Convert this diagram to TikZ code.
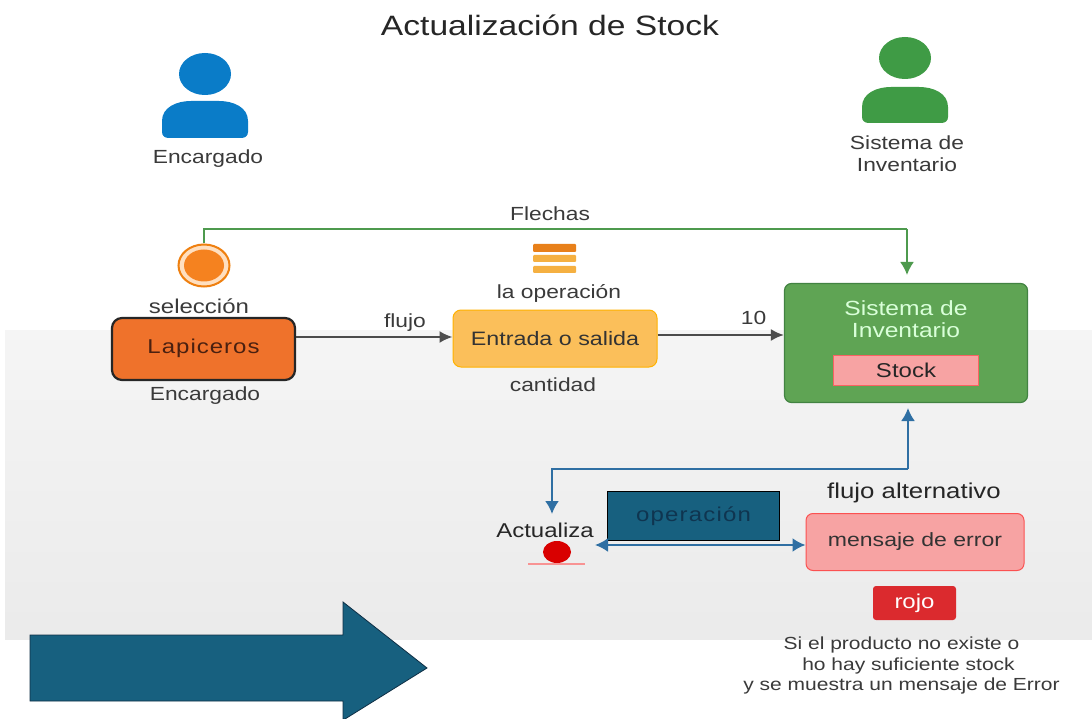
\documentclass[tikz,border=0pt]{standalone}
\usepackage{fontspec}
\setmainfont[FakeStretch=1.2]{Liberation Sans}
\usetikzlibrary{arrows.meta,shapes.geometric}
\definecolor{txt}{HTML}{3A3A3A}
\definecolor{navy}{HTML}{17607F}
\definecolor{navyline}{HTML}{0F2F45}
\definecolor{blueline}{HTML}{2F6FA3}
\definecolor{greenline}{HTML}{4E9A4E}
\definecolor{person1}{HTML}{0A7CC8}
\definecolor{person2}{HTML}{3F9B45}
\definecolor{invgreen}{HTML}{5FA454}
\definecolor{pinkbox}{HTML}{F7A3A3}
\definecolor{orangebox}{HTML}{EF722B}
\definecolor{yellowbox}{HTML}{FBBF5A}
\definecolor{redbox}{HTML}{DB2A2E}
\definecolor{stripeA}{HTML}{E8801A}
\definecolor{stripeB}{HTML}{F5B041}
\definecolor{startfill}{HTML}{F5821F}
\definecolor{lapitxt}{HTML}{4A2010}
\definecolor{opertxt}{HTML}{0F3550}
\tikzset{
  x=1pt,y=-1pt,
  lab/.style={font=\fontsize{19}{22}\selectfont,text=txt,inner sep=0pt,align=center},
  grayarrow/.style={draw=black!70,line width=2pt,-{Latex[length=13pt,width=12pt]}},
  greenarrow/.style={draw=greenline,line width=2pt},
  bluearrow/.style={draw=blueline,line width=2.2pt},
  bighead/.style={-{Latex[length=13pt,width=14pt]}},
}
\newcommand{\personicon}[5]{% cx, head y, body top, body bottom, colour
  \fill[#5] (#1,#2) ellipse (26pt and 21pt);
  \fill[#5] (#1-43,#4-6) -- (#1-43,#3+20) .. controls (#1-43,#3+6) and (#1-28,#3) .. (#1-14,#3)
     -- (#1+14,#3) .. controls (#1+28,#3) and (#1+43,#3+6) .. (#1+43,#3+20) -- (#1+43,#4-6)
     .. controls (#1+43,#4-2) and (#1+40,#4) .. (#1+36,#4) -- (#1-36,#4)
     .. controls (#1-40,#4) and (#1-43,#4-2) .. (#1-43,#4-6) -- cycle;
}
\begin{document}
\begin{tikzpicture}
\useasboundingbox (0,0) rectangle (1092,719);
\fill[white] (0,0) rectangle (1092,719);
\shade[top color=white!96!black,bottom color=white!92!black] (5,330) rectangle (1092,639);
% big arrow
\draw[fill=navy,draw=navyline,line width=.8pt] (30,635) -- (343,635) -- (343,602) -- (427,668) -- (345,719) -- (343,719) -- (343,701) -- (30,701) -- cycle;
% title
\node[font=\fontsize{28}{32}\selectfont,text=black!85,inner sep=0pt] (title) at (550,25) {Actualización de Stock};
% persons
\personicon{205}{74}{101}{138}{person1}
\personicon{905}{58}{87}{123}{person2}
\node[lab] (enc1) at (208,159) {Encargado};
\node[lab] (sys1) at (907,154) {Sistema de\\Inventario};
% start
\node[ellipse,fill=orange!25!white,draw=orange!75!brown,line width=2pt,minimum width=51pt,minimum height=42pt,inner sep=0pt] (start) at (204,265.5) {};
\node[ellipse,fill=startfill,minimum width=40pt,minimum height=32pt,inner sep=0pt] (startin) at (204,265.5) {};
\node[lab,font=\fontsize{20}{24}\selectfont] (sel) at (199,306) {selección};
% Lapiceros
\node[draw=black!85,line width=2.2pt,fill=orangebox,rounded corners=10pt,minimum width=183pt,minimum height=62pt,inner sep=0pt,font=\fontsize{20}{24}\selectfont\addfontfeature{LetterSpace=5},text=lapitxt] (lap) at (203.5,349) {\raisebox{5pt}{Lapiceros}};
\node[lab] (enc2) at (205,396) {Encargado};
% operation
\node[draw=orange!60!yellow,line width=1pt,fill=yellowbox,rounded corners=8pt,minimum width=204pt,minimum height=57pt,inner sep=0pt,font=\fontsize{19.4}{23}\selectfont,text=black!80] (ent) at (555,338.5) {Entrada o salida};
\node[lab] (op) at (559,293) {la operación};
\node[lab] (cant) at (553,385) {cantidad};
\fill[stripeA,rounded corners=1pt] (533,244) rectangle (576,252);
\fill[stripeB,rounded corners=1pt] (533,255) rectangle (576,262);
\fill[stripeB,rounded corners=1pt] (533,266) rectangle (576,273);
% inventory
\node[draw=greenline!85!black,line width=1.2pt,fill=invgreen,rounded corners=7pt,minimum width=243pt,minimum height=119pt,inner sep=0pt] (inv) at (906,343) {};
\node[font=\fontsize{20.5}{21.5}\selectfont,inner sep=0pt,align=center,text=green!15!white] (invt) at (906,319) {Sistema de\\Inventario};
\node[draw=red!40!pinkbox,line width=.8pt,fill=pinkbox,minimum width=145pt,minimum height=30pt,inner sep=0pt,font=\fontsize{20}{24}\selectfont,text=black!85] (stock) at (906,370) {Stock};
% edges top
\draw[grayarrow] (lap.east |- 0,337) -- (ent.west |- 0,337);
\node[lab] (flu) at (405,323) {flujo};
\draw[grayarrow] (ent.east |- 0,335) -- (inv.west |- 0,335);
\node[lab] (diez) at (753.5,318) {10};
\coordinate (gtop) at (907,229);
\draw[greenarrow] (start.north) |- (gtop);
\draw[greenarrow,bighead] (gtop) -- (907,275);
\node[lab] (fl) at (550,214) {Flechas};
% lower flow
\coordinate (bcorner) at (908,469);
\draw[bluearrow,bighead] (bcorner) -- (908,408);
\draw[bluearrow,bighead] (bcorner) -| (552,514);
\node[lab,text=black!85,font=\fontsize{20}{24}\selectfont] (act) at (545,530) {Actualiza};
\node[ellipse,fill=red!85!black,minimum width=28pt,minimum height=22pt,inner sep=0pt] (dot) at (557,552) {};
\draw[pinkbox!90!red,line width=2pt] (528,563.5) -- (585,563.5);
\node[draw=black,line width=1.6pt,fill=navy,minimum width=172pt,minimum height=49pt,inner sep=0pt,font=\fontsize{20}{24}\selectfont\addfontfeature{LetterSpace=6},text=opertxt] (oper) at (693.5,516) {operación};
\node[draw=red!50!pinkbox,line width=1pt,fill=pinkbox,rounded corners=7pt,minimum width=218pt,minimum height=57pt,inner sep=0pt,font=\fontsize{19.2}{23}\selectfont,text=black!80] (err) at (915,542) {mensaje de error};
\node[lab,text=black!85,font=\fontsize{21.5}{24}\selectfont] (alt) at (914,493) {flujo alternativo};
\draw[bluearrow,{Latex[length=13pt,width=14pt]}-{Latex[length=13pt,width=14pt]}] (595,545) -- (err.west |- 0,545);
\node[fill=redbox,rounded corners=3pt,minimum width=83pt,minimum height=34pt,inner sep=0pt,font=\fontsize{20}{24}\selectfont,text=white] (rojo) at (914.5,603) {rojo};
\node[lab,font=\fontsize{17.5}{20.5}\selectfont] (nota) at (901.5,665.5) {Si el producto no existe o\\\hspace*{14pt}ho hay suficiente stock\\y se muestra un mensaje de Error};
\end{tikzpicture}
\end{document}
